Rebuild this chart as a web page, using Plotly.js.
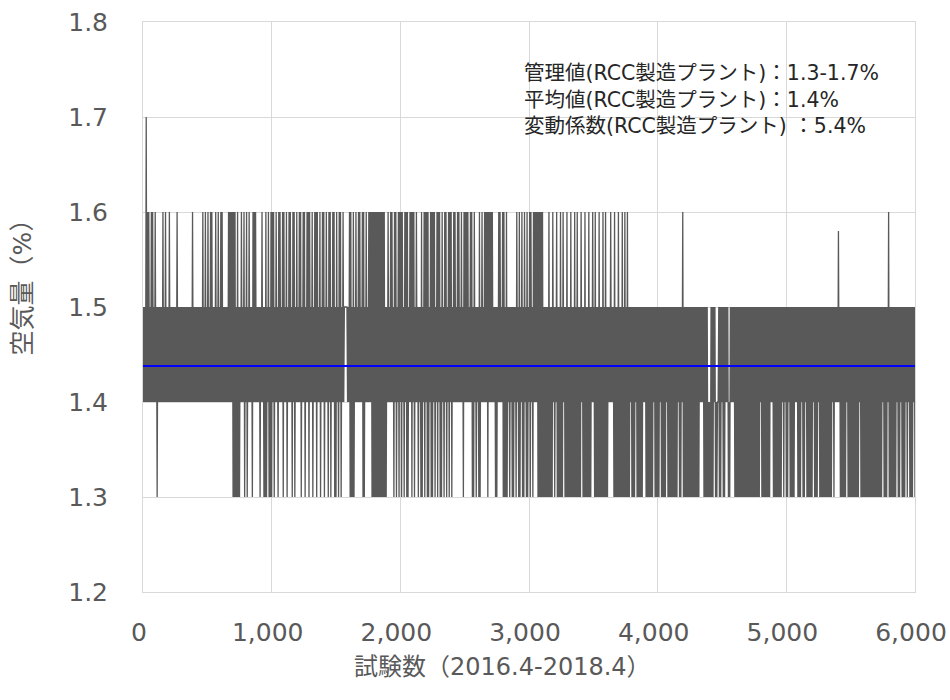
<!DOCTYPE html>
<html>
<head>
<meta charset="utf-8">
<script src="https://cdn.plot.ly/plotly-3.0.1.min.js"></script>
<style>html,body{margin:0;padding:0;background:#fff;}#chart{width:950px;height:700px;}</style>
</head>
<body>
<div id="chart"></div>
<script>
// Air content readings (every 5th test), one digit per reading:
// 3=1.3, 4=1.4, 5=1.5, 6=1.6, 7=1.7, 8=1.58 (%)
const sampleEvery = 5;
const levelOf = {'3':1.3,'4':1.4,'5':1.5,'6':1.6,'7':1.7,'8':1.58};
const airBlocks = [
  "45 45 47 46 46 45 46 46 45 46 45 35 45 45 45 46 45 46 45 45 46 45 45 45 45", // 0-245
  "45 46 45 45 45 45 45 45 45 45 45 45 45 46 45 45 45 45 45 45 45 46 45 46 45", // 250-495
  "46 45 46 46 45 45 46 45 46 45 46 46 45 45 45 45 46 46 46 46 36 36 35 36 35", // 500-745
  "35 46 45 46 35 46 35 46 45 45 36 46 46 45 45 45 35 46 45 35 36 35 46 35 36", // 750-995
  "36 46 35 46 45 36 46 45 46 36 45 46 35 46 46 45 36 46 35 46 45 46 46 35 46", // 1000-1245
  "46 35 46 46 36 45 46 35 46 46 36 45 46 35 46 46 35 46 45 36 46 35 46 46 35", // 1250-1495
  "36 45 36 46 35 46 45 55 55 45 46 36 35 36 35 46 45 46 46 45 46 36 35 46 45", // 1500-1745
  "46 46 46 36 36 36 36 36 36 36 36 36 36 35 35 46 45 46 46 45 36 46 35 46 36", // 1750-1995
  "46 36 45 36 46 36 35 46 46 36 46 35 46 45 35 45 36 35 46 36 46 36 35 46 36", // 2000-2245
  "36 46 35 46 36 46 35 36 45 36 46 35 46 36 46 35 46 46 45 46 46 45 46 45 36", // 2250-2495
  "46 46 46 45 46 46 35 36 45 35 45 36 35 46 45 46 46 46 36 46 46 46 45 45 35", // 2500-2745
  "35 46 46 45 46 36 35 36 35 45 35 45 35 35 45 36 45 36 35 46 35 36 45 36 35", // 2750-2995
  "46 36 45 36 46 46 46 36 36 36 36 35 35 35 35 36 35 35 36 45 35 46 35 35 36", // 3000-3245
  "35 36 45 35 36 35 35 36 35 35 36 35 36 35 35 36 45 35 36 35 35 36 35 35 46", // 3250-3495
  "45 36 35 35 36 35 35 36 35 36 35 35 45 46 45 45 36 35 35 36 35 35 36 35 36", // 3500-3745
  "35 36 35 35 45 35 35 35 45 35 35 35 35 35 45 45 35 35 35 35 35 35 45 35 35", // 3750-3995
  "35 35 45 35 35 35 35 45 35 35 35 35 35 35 35 35 45 35 35 46 35 35 35 35 35", // 4000-4245
  "35 35 35 35 35 35 35 35 45 45 45 35 35 35 34 34 35 35 35 45 34 34 45 35 35", // 4250-4495
  "45 35 35 45 45 34 35 45 45 45 35 35 35 35 35 35 35 35 35 35 35 35 35 35 35", // 4500-4745
  "35 35 35 35 35 45 35 35 35 35 35 35 35 45 45 35 35 35 35 35 35 35 45 35 45", // 4750-4995
  "35 35 45 35 35 35 35 45 45 35 35 35 45 35 35 45 35 35 35 35 35 45 35 35 35", // 5000-5245
  "45 35 35 35 35 35 35 35 35 35 35 45 35 45 45 48 45 35 35 35 35 35 45 35 35", // 5250-5495
  "35 35 35 35 35 35 35 45 35 35 35 35 35 35 35 35 35 35 35 35 35 35 35 35 35", // 5500-5745
  "45 35 35 35 46 35 35 35 35 35 35 45 35 35 45 35 35 35 45 35 45 35 35 35 45", // 5750-5995
  "35 35 35"                                                                  // 6000-6025
];
const meanAir = 1.438;

const xTicks = [0, 1000, 2000, 3000, 4000, 5000, 6000];
const xTickText = ['0', '1,000', '2,000', '3,000', '4,000', '5,000', '6,000'];
const yTicks = [1.2, 1.3, 1.4, 1.5, 1.6, 1.7, 1.8];
const yTickText = ['1.2', '1.3', '1.4', '1.5', '1.6', '1.7', '1.8'];
const noteLines = [
  '管理値(RCC製造プラント)：1.3-1.7%',
  '平均値(RCC製造プラント)：1.4%',
  '変動係数(RCC製造プラント) ：5.4%'
];
const xTitle = '試験数（2016.4-2018.4）';
const yTitle = '空気量（%）';

const airChars = airBlocks.join('').replace(/\s+/g, '');
const testNo = [];
const airContent = [];
for (let i = 0; i < airChars.length; i++) {
  testNo.push(i * sampleEvery);
  airContent.push(levelOf[airChars[i]]);
}

const latin = 'DejaVu Sans, "Noto Sans CJK JP", sans-serif';
const grid = '#d9d9d9';
const tickCol = '#595959';

const traces = [
  {
    type: 'scatter', mode: 'lines',
    x: testNo, y: airContent,
    line: {color: '#595959', width: 1.3, simplify: false},
    hoverinfo: 'skip', showlegend: false
  },
  {
    type: 'scatter', mode: 'lines',
    x: [testNo[0], testNo[testNo.length - 1]], y: [meanAir, meanAir],
    line: {color: '#0000ff', width: 2},
    hoverinfo: 'skip', showlegend: false
  }
];

const layout = {
  width: 950, height: 700,
  margin: {l: 143, r: 35, t: 22, b: 108, pad: 0},
  paper_bgcolor: '#ffffff', plot_bgcolor: '#ffffff',
  showlegend: false,
  xaxis: {
    range: [0, 6000], tickvals: xTicks, ticktext: xTickText,
    showgrid: true, gridcolor: grid, gridwidth: 1,
    zeroline: false, showline: true, mirror: true, linecolor: grid, linewidth: 1,
    ticks: '', ticklabelstandoff: 18, ticklabelshift: -4,
    tickfont: {family: latin, size: 25, color: tickCol}
  },
  yaxis: {
    range: [1.2, 1.8], tickvals: yTicks, ticktext: yTickText,
    showgrid: true, gridcolor: grid, gridwidth: 1,
    zeroline: false, showline: true, mirror: true, linecolor: grid, linewidth: 1,
    ticks: '', ticklabelstandoff: 29,
    tickfont: {family: latin, size: 25, color: tickCol}
  },
  annotations: [
    {
      xref: 'paper', yref: 'paper', x: 0.491, y: 0.8632,
      xanchor: 'left', yanchor: 'middle', align: 'left', showarrow: false,
      text: noteLines.join('<br>'),
      font: {family: latin, size: 20.5, color: '#262626'}
    },
    {
      xref: 'paper', yref: 'paper', x: 0.4663, y: -0.1316,
      xanchor: 'center', yanchor: 'middle', showarrow: false,
      text: xTitle,
      font: {family: latin, size: 24, color: tickCol}
    },
    {
      xref: 'paper', yref: 'paper', x: -0.1567, y: 0.545,
      xanchor: 'center', yanchor: 'middle', showarrow: false, textangle: -90,
      text: yTitle,
      font: {family: latin, size: 25, color: tickCol}
    }
  ]
};

Plotly.newPlot('chart', traces, layout, {staticPlot: true, displayModeBar: false});
</script>
</body>
</html>
